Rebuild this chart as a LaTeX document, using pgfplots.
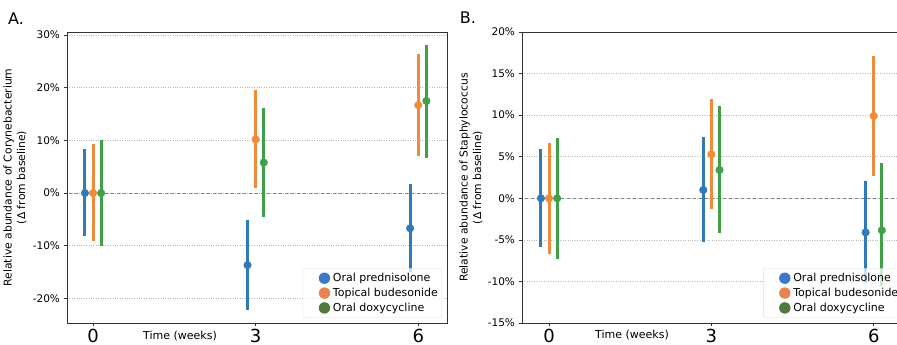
\documentclass[border=0pt]{standalone}
\usepackage{fontspec}
\setmainfont{DejaVu Sans}
\usepackage{pgfplots}
\pgfplotsset{compat=1.18}
\definecolor{cblue}{HTML}{2F7AB8}
\definecolor{corange}{HTML}{F08B3A}
\definecolor{cgreen}{HTML}{40A04A}
\definecolor{lblue}{HTML}{3D78C6}
\definecolor{lorange}{HTML}{E8834F}
\definecolor{lgreen}{HTML}{4F7A3C}
\pgfplotsset{
  common/.style={
    scale only axis, anchor=south west,
    xtick={0,3,6},
    ymajorgrids, major grid style={dotted, gray!55, line width=0.6pt},
    yticklabel={\pgfmathprintnumber{\tick}\%},
    /pgf/number format/assume math mode=true,
    yticklabel style={font=\fontsize{10.5}{12}\selectfont},
    xticklabel style={font=\fontsize{18}{20}\selectfont, yshift=1pt},
    tick align=outside, tick pos=left, major tick length=3.5pt,
    tick style={black!80, line width=0.6pt},
    axis line style={line width=0.8pt, black!80},
    ylabel style={align=center, font=\fontsize{10.8}{13.5}\selectfont, anchor=center},
    legend style={draw=gray!25, rounded corners=2pt, font=\fontsize{11}{13}\selectfont,
      fill=white, fill opacity=0.75, draw opacity=1, text opacity=1,
      row sep=1pt, inner xsep=2pt, inner ysep=3pt, cells={anchor=west}},
    legend cell align=left,
  },
  limg/.style={legend image code/.code={\path[draw=none,fill=none] (0,0) -- (26pt,0); \fill[#1,draw=none,fill opacity=1] (19.5pt,0) circle (5.7pt);}},
  ebar/.style={forget plot, only marks, mark=*, mark size=3.8pt, color=#1,
    error bars/.cd, y dir=both, y explicit,
    error bar style={line width=3pt, color=#1}, error mark=none},
  zeroline/.style={dashed, gray, line width=0.8pt, forget plot},
}
\begin{document}
\begin{tikzpicture}[x=1pt,y=1pt]
\path[use as bounding box] (0,0) rectangle (897,345);
\begin{axis}[common,
  at={(67pt,22pt)}, width=380pt, height=291pt,
  xmin=-0.48, xmax=6.53, ymin=-24.7, ymax=30.6,
  ytick={-20,-10,0,10,20,30},
  ylabel={Relative abundance of Corynebacterium\\(Δ from baseline)},
  ylabel style={at={(axis description cs:-0.137,0.5)}},
  legend style={at={(0.987,0.017)}, anchor=south east},
]
\addplot[zeroline] coordinates {(-1,0) (7,0)};
\addlegendimage{limg=lblue}
\addlegendimage{limg=lorange}
\addlegendimage{limg=lgreen}
\addplot[ebar=cblue] coordinates {
  (-0.15,0) += (0,8.3) -= (0,8.2)
  (2.85,-13.7) += (0,8.6) -= (0,8.5)
  (5.85,-6.7) += (0,8.5) -= (0,8.3)
};
\addplot[ebar=corange] coordinates {
  (0,0) += (0,9.3) -= (0,9.2)
  (3,10.2) += (0,9.3) -= (0,9.3)
  (6,16.7) += (0,9.8) -= (0,9.6)
};
\addplot[ebar=cgreen] coordinates {
  (0.15,0) += (0,10.0) -= (0,10.1)
  (3.15,5.8) += (0,10.4) -= (0,10.4)
  (6.15,17.5) += (0,10.7) -= (0,10.8)
};
\legend{Oral prednisolone, Topical budesonide, Oral doxycycline}
\end{axis}
\begin{axis}[common,
  at={(522pt,22pt)}, width=375pt, height=291pt,
  xmin=-0.5, xmax=6.43, ymin=-15, ymax=20,
  ytick={-15,-10,-5,0,5,10,15,20},
  ylabel={Relative abundance of Staphylococcus\\(Δ from baseline)},
  ylabel style={at={(axis description cs:-0.136,0.5)}},
  legend style={at={(0.643,0.017)}, anchor=south west},
]
\addplot[zeroline] coordinates {(-1,0) (7,0)};
\addlegendimage{limg=lblue}
\addlegendimage{limg=lorange}
\addlegendimage{limg=lgreen}
\addplot[ebar=cblue] coordinates {
  (-0.15,0) += (0,5.9) -= (0,5.9)
  (2.85,1.0) += (0,6.4) -= (0,6.3)
  (5.85,-4.1) += (0,6.2) -= (0,6.1)
};
\addplot[ebar=corange] coordinates {
  (0,0) += (0,6.7) -= (0,6.7)
  (3,5.3) += (0,6.7) -= (0,6.6)
  (6,9.9) += (0,7.2) -= (0,7.2)
};
\addplot[ebar=cgreen] coordinates {
  (0.15,0) += (0,7.3) -= (0,7.3)
  (3.15,3.4) += (0,7.7) -= (0,7.6)
  (6.15,-3.85) += (0,8.05) -= (0,6.65)
};
\legend{Oral prednisolone, Topical budesonide, Oral doxycycline}
\end{axis}
\node[font=\fontsize{11}{13}\selectfont] at (180,9) {Time (weeks)};
\node[font=\fontsize{11}{13}\selectfont] at (632,10) {Time (weeks)};
\node[font=\fontsize{16}{18}\selectfont] at (16,326.5) {A.};
\node[font=\fontsize{16}{18}\selectfont] at (468,327) {B.};
\end{tikzpicture}
\end{document}
